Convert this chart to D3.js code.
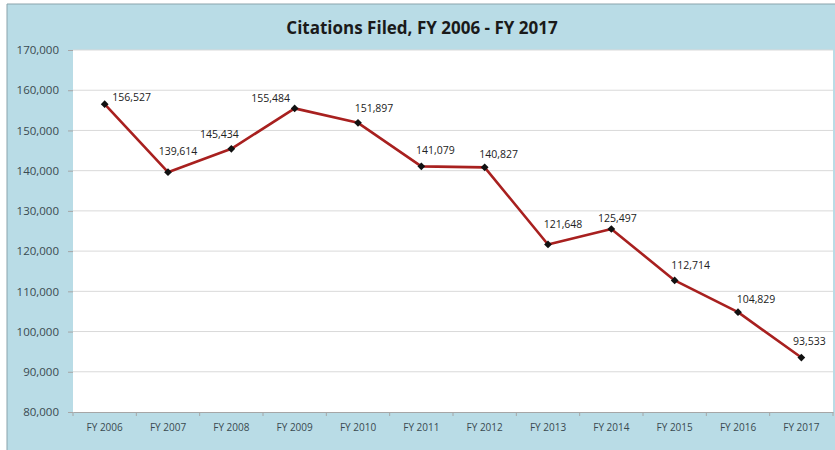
<!DOCTYPE html>
<html><head><meta charset="utf-8">
<script src="https://cdn.jsdelivr.net/npm/d3@7"></script>
<style>body{margin:0;background:#fff}svg{display:block}</style>
</head><body>
<svg id="c" width="835" height="450"></svg>
<script>
const years = ["FY 2006","FY 2007","FY 2008","FY 2009","FY 2010","FY 2011","FY 2012","FY 2013","FY 2014","FY 2015","FY 2016","FY 2017"];
const citations = [156527,139614,145434,155484,151897,141079,140827,121648,125497,112714,104829,93533];
const yTicks = [80000,90000,100000,110000,120000,130000,140000,150000,160000,170000];
const title = "Citations Filed, FY 2006 - FY 2017";
// label placement offsets (px) relative to each point
const labelOffsets = [[27,-6],[10,-20],[-12,-14],[-24,-9],[16,-14],[14,-15],[14,-12],[15,-19],[6,-10],[16,-14],[18,-12],[8,-15]];

const svg = d3.select("#c");
const W = 835, H = 450;
const font = "'Open Sans', sans-serif";
// background
svg.append("rect").attr("x",0).attr("y",0).attr("width",W).attr("height",H).attr("fill","#fff");
svg.append("rect").attr("x",7).attr("y",4).attr("width",W-7).attr("height",H-4).attr("fill","#b9dce6");
svg.append("line").attr("x1",7).attr("x2",W).attr("y1",4).attr("y2",4).attr("stroke","#8aa3ab").attr("stroke-width",1);
svg.append("line").attr("x1",7).attr("x2",7).attr("y1",4).attr("y2",H).attr("stroke","#8aa3ab").attr("stroke-width",1);

const m = {l:73, r:833, t:50, b:412};
svg.append("rect").attr("x",m.l).attr("y",m.t).attr("width",m.r-m.l).attr("height",m.b-m.t).attr("fill","#fff");

const x = d3.scaleBand().domain(years).range([m.l,m.r]);
const y = d3.scaleLinear().domain([80000,170000]).range([m.b,m.t]);

// gridlines
svg.append("g").selectAll("line").data(yTicks.filter(d=>d>80000)).join("line")
  .attr("x1",m.l).attr("x2",m.r).attr("y1",d=>y(d)).attr("y2",d=>y(d))
  .attr("stroke","#d9d9d9").attr("stroke-width",1);

// y axis
const yAxis = svg.append("g").attr("transform",`translate(${m.l},0)`)
  .call(d3.axisLeft(y).tickValues(yTicks).tickFormat(d3.format(",")).tickSize(5).tickPadding(9));
yAxis.select(".domain").remove();
yAxis.selectAll(".tick line").attr("stroke","#a6a6a6");
yAxis.selectAll("text").attr("font-family",font).attr("font-size","11.5px").attr("fill","#3a4a50");

// x axis
const xAxis = svg.append("g").attr("transform",`translate(0,${m.b})`)
  .call(d3.axisBottom(x).tickSize(0).tickPadding(12));
xAxis.select(".domain").attr("stroke","#a6a6a6");
xAxis.selectAll("text").attr("font-family",font).attr("font-size","10px").attr("fill","#3a4a50");
svg.append("g").selectAll("line").data(years.concat([null])).join("line")
  .attr("x1",(d,i)=>m.l+i*x.step()).attr("x2",(d,i)=>m.l+i*x.step())
  .attr("y1",m.b).attr("y2",m.b+4).attr("stroke","#a6a6a6");

// line
const line = d3.line().x((d,i)=>x(years[i])+x.bandwidth()/2).y(d=>y(d));
svg.append("path").datum(citations).attr("d",line).attr("fill","none")
  .attr("stroke","#a8201f").attr("stroke-width",2.6).attr("stroke-linejoin","round");

// markers
svg.append("g").selectAll("path").data(citations).join("path")
  .attr("d",d3.symbol().type(d3.symbolSquare).size(30))
  .attr("transform",(d,i)=>`translate(${x(years[i])+x.bandwidth()/2},${y(d)}) rotate(45)`)
  .attr("fill","#111");

// labels
svg.append("g").selectAll("text").data(citations).join("text")
  .attr("x",(d,i)=>x(years[i])+x.bandwidth()/2+labelOffsets[i][0])
  .attr("y",(d,i)=>y(d)+labelOffsets[i][1])
  .attr("text-anchor","middle").attr("dominant-baseline","middle")
  .attr("font-family",font).attr("font-size","10.5px").attr("fill","#222")
  .text(d=>d3.format(",")(d));

// title
svg.append("text").attr("x",422).attr("y",29).attr("text-anchor","middle").attr("dominant-baseline","middle")
  .attr("font-family",font).attr("font-weight","bold").attr("font-size","17px").attr("fill","#1a1a1a")
  .text(title);
</script>
</body></html>
